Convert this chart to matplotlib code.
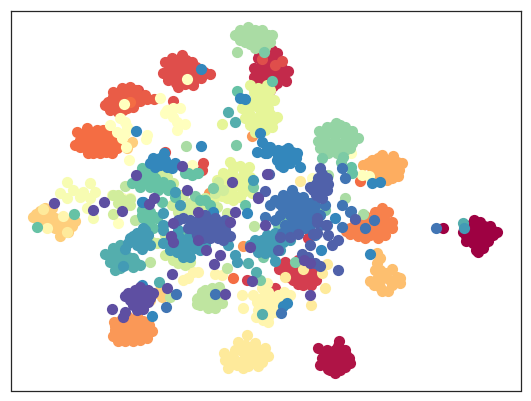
import numpy as np
import matplotlib
matplotlib.use("Agg")
from matplotlib import pyplot as plt

# embedding positions, one list per label
c00 = [(474,220),(467,230),(476,228),(484,226),(490,226),(497,232),(488,235),(480,235),(470,235),(463,232),(466,241),(473,243),(480,243),(488,241),(476,250),(483,248),(478,252),(443,228),
       (472,224),(480,222),(478,230),(486,231),(492,230),(474,232),(466,236),(484,238),(476,238),(470,240),(478,246),(484,244),(470,228),(493,235)]
c01 = [(318,348),(327,350),(339,341),(335,350),(345,350),(349,358),(342,358),(332,358),(322,358),(320,365),(328,366),(337,366),(345,367),(335,373),(328,369),
       (324,354),(330,354),(338,346),(340,353),(346,355),(326,361),(334,362),(340,363),(346,362),(350,363),(330,370),(340,370)]
c02 = [(258,58),(254,68),(254,77),(261,84),(270,90),(272,50),(277,53),(270,62),(263,70),(272,72),(282,68),(288,71),(281,78),(286,81),(277,83),(259,52),(266,58),(270,80),
       (262,64),(258,72),(266,76),(258,80),(275,60),(280,73),(276,76),(268,66),(264,88),(273,86),(276,68),(283,74),(268,54)]
c03 = [(279,269),(285,262),(293,265),(300,262),(310,268),(318,272),(288,272),(296,272),(304,272),(312,272),(293,280),(300,280),(308,280),(316,280),(303,285),(311,285),(298,260),(275,288),(308,238),(223,232),(247,280),
       (283,268),(290,268),(298,267),(305,267),(313,267),(289,277),(297,277),(304,277),(312,277),(298,284),(306,282),(314,276),(285,275)]
c04 = [(163,73),(165,62),(172,58),(182,55),(192,62),(185,65),(175,66),(172,74),(180,74),(190,72),(198,72),(204,72),(210,74),(201,78),(168,80),(176,83),(185,84),(193,85),(190,78),(203,163),(202,170),(275,65),(282,61),(262,59),(138,90),(173,101),(165,152),
       (169,67),(178,60),(186,60),(180,69),(168,74),(175,78),(183,79),(195,79),(187,70),(196,67),(178,87),(172,70)]
c05 = [(113,92),(122,88),(130,87),(136,90),(128,95),(118,97),(108,102),(115,103),(125,103),(135,100),(140,97),(147,99),(154,99),(110,110),(118,112),(130,106),(133,107),(123,110),
       (125,91),(133,93),(120,92),(113,97),(122,100),(130,100),(112,106),(120,107),(127,108),(105,105),(140,101),(136,94),(145,95)]
c06 = [(77,132),(87,128),(97,130),(75,145),(88,153),(100,153),(112,153),(117,148),(85,140),(95,140),(105,140),(112,142),(92,148),(105,147),(84,147),(108,135),(100,135),(115,135),(130,102),(360,181),(233,278),(182,195),
       (82,134),(90,134),(80,140),(90,145),(97,146),(80,147),(93,153),(106,152),(112,148),(108,146),(118,142),(103,130)]
c07 = [(382,208),(375,212),(388,212),(365,216),(355,220),(375,222),(385,222),(392,228),(385,235),(378,238),(370,235),(362,225),(370,228),(355,230),(350,234),(365,238),(358,236),(350,228),(346,231),
       (380,215),(370,220),(360,222),(378,228),(385,228),(392,222),(375,232),(365,231),(356,225),(383,216),(373,226)]
c08 = [(114,322),(121,320),(127,316),(137,316),(143,321),(149,325),(152,331),(145,335),(135,328),(125,328),(115,330),(113,336),(118,341),(125,341),(133,341),(140,340),(147,338),(130,335),(243,246),(252,136),(209,193),
       (120,325),(130,322),(138,322),(146,328),(140,330),(130,328),(120,335),(127,335),(137,335),(115,326)]
c09 = [(363,165),(372,160),(382,155),(393,156),(402,163),(398,176),(387,180),(380,165),(390,165),(395,170),(385,172),(375,172),(372,168),(380,178),(392,178),(375,176),
       (378,158),(387,160),(397,162),(368,163),(377,166),(385,165),(394,175),(376,170),(399,170),(389,172)]
c10 = [(377,253),(380,258),(375,270),(370,281),(392,269),(400,278),(400,283),(388,291),(380,287),(383,278),(390,280),(378,277),(397,277),
       (380,270),(385,273),(376,282),(392,285),(395,280),(382,291),(374,285),(377,263)]
c11 = [(33,217),(40,211),(45,208),(50,213),(55,218),(48,223),(40,224),(60,222),(65,223),(69,221),(75,221),(62,230),(68,232),(60,236),(55,228),(47,218),(38,218),(132,142),(127,148),(155,293),(160,290),(162,297),(150,300),
       (43,217),(36,214),(52,208),(58,227),(53,222),(65,228),(60,230),(72,226)]
c12 = [(224,353),(238,342),(247,335),(255,343),(243,350),(252,353),(260,350),(268,356),(262,362),(250,360),(240,362),(232,356),(237,365),(258,366),(228,368),(300,181),(325,288),(311,305),(285,277),(303,269),(322,273),(327,264),(43,209),(67,232),
       (245,345),(250,347),(240,350),(235,350),(230,358),(245,357),(255,358),(265,348),(263,355),(248,366),(243,368),(235,360),(225,360),(255,363)]
c13 = [(242,295),(262,288),(263,297),(265,305),(257,302),(270,307),(275,312),(282,297),(290,295),(284,292),(280,303),(243,308),(256,317),(263,320),(268,317),(268,322),(267,283),(268,292),(278,295),(183,280),(188,278),(193,272),(198,272),(215,274),(222,275),(63,216),(47,228),
       (268,298),(272,300),(276,305),(286,298),(258,310),(253,295)]
c14 = [(160,98),(167,110),(173,117),(180,108),(185,124),(177,130),(165,113),(173,108),(177,122),(120,118),(125,122),(110,125),(117,132),(125,133),(122,138),(127,127),(147,135),(146,139),(126,147),(129,160),(192,165),(187,79),(124,104),(351,153),(362,175),(369,176),(118,223),(312,178)]
c15 = [(67,182),(90,183),(60,193),(73,190),(83,192),(95,192),(67,198),(80,197),(90,198),(112,195),(122,198),(130,198),(123,200),(127,205),(93,218),(87,208)]
c16 = [(250,85),(258,88),(267,85),(268,98),(262,100),(255,100),(248,108),(242,108),(250,115),(260,115),(268,108),(245,118),(250,125),(258,125),(266,120),(255,132),(265,130),(273,120),(272,127),(277,117),(274,100),(270,90),(222,124),(230,162),(240,166),(249,167),(223,173),(232,172),(243,175),(217,180),(227,180),(240,183),(250,177),(220,190),(232,193),(243,192),(215,197),(227,198),(240,197),(252,193),
       (254,92),(262,92),(256,106),(264,106),(254,120),(262,122),(250,105),(270,114),(233,166),(245,170),(235,178),(225,186),(235,186),(246,185),(222,196),(233,200)]
c17 = [(113,195),(123,200),(130,199),(118,203),(113,214),(218,182),(223,190),(215,193),(217,207),(227,213),(183,195),(190,203),(200,203),(190,210),(160,173),(167,177),(173,183),(152,242),(157,243),(173,260),(178,263),
       (178,200),(185,207),(195,208),(205,198),(207,208),(172,205),(178,212),(165,235),(172,250),(165,255),(185,265),(190,262),(178,255),(130,205),(118,195)]
c18 = [(198,298),(205,290),(212,288),(219,287),(205,300),(213,298),(220,298),(222,303),(200,305),(208,308),(215,308),(197,299),(207,294),(150,262),(170,297),(227,268),(254,226),(135,220),(125,186),
       (202,292),(210,292),(217,292),(209,303),(203,296),(216,303),(223,293),(197,304)]
c19 = [(235,35),(243,32),(248,27),(255,30),(262,30),(268,35),(272,35),(245,38),(253,38),(262,38),(270,42),(250,44),(258,44),(265,47),(240,35),(247,30),(237,52),(186,146),(328,175),(345,198),(363,214),
       (240,40),(248,35),(258,35),(265,40),(255,48),(245,42),(240,30)]
c20 = [(319,131),(327,127),(336,123),(345,127),(352,131),(358,138),(352,143),(345,150),(337,153),(328,153),(320,148),(318,141),(325,140),(335,140),(345,140),(340,132),(328,133),(340,147),(332,150),
       (323,135),(332,127),(340,125),(348,135),(335,133),(323,148),(330,145),(350,148),(346,133)]
c21 = [(236,145),(322,158),(343,157),(341,162),(264,52),(195,196),(213,188),(253,187),(278,225),(325,210),(285,217),(295,262),(263,257),(260,280)]
c22 = [(142,168),(132,183),(138,178),(147,175),(155,178),(163,182),(170,185),(140,187),(150,187),(158,190),(168,190),(142,210),(150,212),(143,218),(155,217),(153,228),(188,173),(197,173),(162,202),(192,175),(198,173),(185,173),(74,214),(37,227),(272,81),(237,91),(210,205),(351,167),(352,173),(157,218),(147,215),
       (145,182),(155,183),(160,186),(148,170),(152,172),(150,180),(165,187),(140,182),(145,215),(150,220),(148,223),(142,215),(175,197),(200,200),(210,215),(183,235),(190,225),(205,200),(245,205)]
c23 = [(105,254),(113,248),(120,245),(123,253),(115,262),(110,262),(115,270),(125,265),(133,258),(140,265),(128,257),(133,267),(159,282),(262,314),(228,112),(235,122),(463,223),(256,272),(248,263),
       (112,255),(118,252),(125,259),(118,260),(115,255),(128,262),(120,268),(110,257),(122,249),(135,262)]
c24 = [(262,240),(267,235),(275,233),(268,245),(277,242),(283,242),(265,253),(272,252),(288,233),(255,240),(275,261),(228,245),(235,255),(237,262),(130,238),(137,233),(143,237),(135,240),(140,242),(142,249),(145,230),(125,249),(123,266),(163,230),(163,243),(177,252),(183,257),(190,257),(187,242),(195,248),(197,238),(175,192),(180,205),(163,213),(143,228),(163,225),(178,230),(253,180),(464,228),
       (273,238),(262,245),(270,240),(280,237),(258,246),(272,246),(266,250),(285,235),(140,237),(133,236),(137,245),(128,243),(146,240),
       (170,240),(178,245),(185,250),(170,250),(193,243),(200,250),(205,245),(190,235),(180,238),(258,252),(250,245),(280,250),(290,240),(295,228),(150,245),(148,235)]
c25 = [(136,131),(201,146),(201,69),(245,99),(240,98),(153,158),(164,153),(150,163),(160,165),(167,167),(175,163),(155,167),(172,168),(260,133),(262,142),(257,152),(265,153),(270,147),(267,147),(288,148),(278,155),(290,157),(283,167),(277,160),(297,153),(300,167),(372,183),(380,182),(267,153),(285,157),(370,254),(287,303),(283,306),(247,213),(152,316),(142,202),(142,285),(321,250),(335,218),(213,212),(143,202),
       (160,158),(155,162),(165,160),(170,165),(278,150),(285,150),(292,152),(283,160),(290,163),(272,150),(296,158),(280,165)]
c26 = [(283,195),(292,190),(275,200),(288,200),(297,202),(303,197),(310,203),(283,208),(297,212),(305,210),(313,212),(303,218),(312,220),(300,222),(292,222),(320,215),(342,168),(345,178),(342,205),(350,212),(342,227),(265,217),(327,225),(290,230),(282,233),(374,220),(365,228),(315,235),(281,313),(351,211),(215,294),(166,307),(176,294),(436,228),
       (285,200),(295,196),(300,205),(290,207),(308,215),(297,218),(280,204),(290,215),(303,204),(315,206),(275,220),(285,225),(295,230),(305,228),(320,225),(310,225),(270,205),(280,215),(325,205)]
c27 = [(315,188),(320,168),(325,178),(318,178),(310,187),(320,190),(327,190),(322,198),(327,178),(320,180),(312,187),(317,190),(320,197),(269,174),(265,191),(258,197),(317,218),(355,219),(326,225),(328,235),(338,240),(332,245),(338,270),(320,266),(313,234),(317,233),(290,237),(298,234),(280,237),(278,250),(302,254),(310,245),(308,257),(315,263),(317,222),(183,218),(188,228),(203,227),(213,227),(225,220),(195,222),(207,233),(220,233),(228,223),(190,228),(197,235),(207,225),(213,232),(218,238),(210,238),(223,240),(202,228),(178,220),
       (316,184),(320,184),(313,190),(322,174),(324,185),(316,195),(328,184),(200,221),(205,234),(215,225),(218,230),(190,220),(198,225),(205,220),(215,218),(220,225),(195,230),(203,238),(213,222),(225,230),(230,236),(205,215)]
c28 = [(54,203),(93,210),(104,202),(122,211),(154,198),(149,204),(173,223),(171,236),(173,242),(198,212),(198,240),(206,250),(220,255),(214,264),(172,274),(167,288),(225,294),(235,212),(230,222),(250,247),(252,281),(265,225),(258,198),(128,293),(135,290),(140,287),(148,290),(153,293),(130,300),(138,298),(146,298),(125,296),(133,305),(141,305),(148,302),(137,310),(112,309),(125,312),(123,317),(143,309),(136,175),(182,166),(232,182),(267,174),(187,190),(310,295),(304,260),(310,263),
       (132,295),(140,293),(147,294),(135,302),(143,302),(139,306),(150,298)]

groups = [c00,c01,c02,c03,c04,c05,c06,c07,c08,c09,c10,c11,c12,c13,c14,c15,
          c16,c17,c18,c19,c20,c21,c22,c23,c24,c25,c26,c27,c28]
# label number of each group on a 31 step Spectral scale
labels = [0,1,2,3,4,5,6,7,8,9,10,11,13,14,15,16,18,19,20,21,22,23,24,25,26,27,28,29,30]

fig = plt.figure(figsize=(531/72, 401/72), dpi=72)
ax = fig.add_axes([10.5/531, 1-390.5/401, 510.5/531, 379.5/401])
for pts, lab in zip(groups, labels):
    pts = np.array(pts)
    ax.scatter(pts[:,0], pts[:,1], s=125, color=plt.cm.Spectral(lab/30), linewidths=0)

ax.set_xlim(10.5, 521)
ax.set_ylim(390.5, 11)
ax.set_xticks([])
ax.set_yticks([])
for sp in ax.spines.values():
    sp.set_color("#262626")
    sp.set_linewidth(1.25)
fig.savefig("out.png", dpi=72)
